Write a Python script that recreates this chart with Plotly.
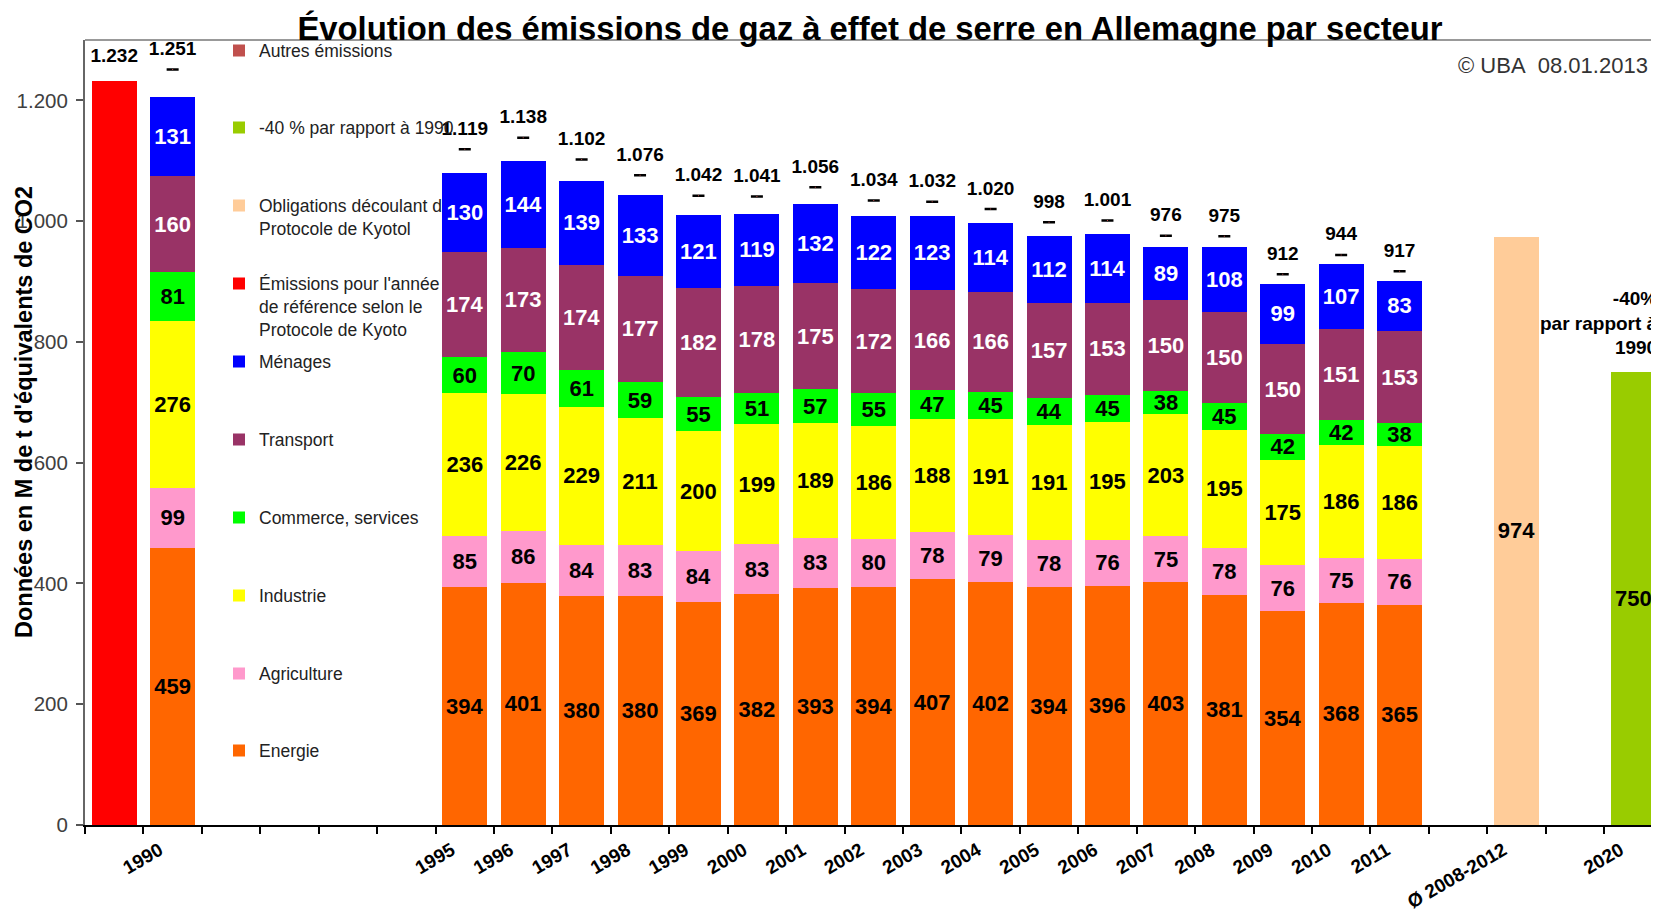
import plotly.graph_objects as go

# ---------------- data ----------------
tick_labels = ["", "1990", "", "", "", "",
               "1995", "1996", "1997", "1998", "1999", "2000", "2001", "2002", "2003",
               "2004", "2005", "2006", "2007", "2008", "2009", "2010", "2011",
               "", "Ø 2008-2012", "", "2020"]
sector_years = ["1990", "1995", "1996", "1997", "1998", "1999", "2000", "2001", "2002",
                "2003", "2004", "2005", "2006", "2007", "2008", "2009", "2010", "2011"]
energie = [459, 394, 401, 380, 380, 369, 382, 393, 394, 407, 402, 394, 396, 403, 381, 354, 368, 365]
agriculture = [99, 85, 86, 84, 83, 84, 83, 83, 80, 78, 79, 78, 76, 75, 78, 76, 75, 76]
industrie = [276, 236, 226, 229, 211, 200, 199, 189, 186, 188, 191, 191, 195, 203, 195, 175, 186, 186]
commerce = [81, 60, 70, 61, 59, 55, 51, 57, 55, 47, 45, 44, 45, 38, 45, 42, 42, 38]
transport = [160, 174, 173, 174, 177, 182, 178, 175, 172, 166, 166, 157, 153, 150, 150, 150, 151, 153]
menages = [131, 130, 144, 139, 133, 121, 119, 132, 122, 123, 114, 112, 114, 89, 108, 99, 107, 83]
totals = [1251, 1119, 1138, 1102, 1076, 1042, 1041, 1056, 1034, 1032, 1020, 998, 1001, 976, 975, 912, 944, 917]
ref_1990 = [1232]
kyoto_avg = [974]
target_2020 = [750]
y_ticks = [0, 200, 400, 600, 800, 1000, 1200]

# ---------------- positions from categories ----------------
sx = [tick_labels.index(y) for y in sector_years]
x_ref = [0]
x_kyoto = [tick_labels.index("Ø 2008-2012")]
x_2020 = [tick_labels.index("2020")]
boundaries = [i - 0.5 for i in range(len(tick_labels) + 1)]

FONT = "Liberation Sans, Arial, sans-serif"
fig = go.Figure()

sectors = [
    ("Energie", energie, "#FF6600", "black", "legend10"),
    ("Agriculture", agriculture, "#FF99CC", "black", "legend9"),
    ("Industrie", industrie, "#FFFF00", "black", "legend8"),
    ("Commerce, services", commerce, "#00FF00", "black", "legend7"),
    ("Transport", transport, "#993366", "white", "legend6"),
    ("Ménages", menages, "#0000FF", "white", "legend5"),
]
for name, vals, col, tcol, lg in sectors:
    fig.add_trace(go.Bar(
        x=sx, y=vals, name=name, legend=lg,
        marker=dict(color=col, line=dict(width=0)),
        text=vals, textposition="inside", insidetextanchor="middle",
        textangle=0, constraintext="none",
        textfont=dict(family=FONT, size=22, color=tcol, weight="bold"),
        hoverinfo="skip"))

fig.add_trace(go.Bar(
    x=x_ref, y=ref_1990, name="Émissions pour l'année<br>de référence selon le<br>Protocole de Kyoto",
    legend="legend4", marker=dict(color="#FF0000", line=dict(width=0)), hoverinfo="skip"))
fig.add_trace(go.Bar(
    x=x_kyoto, y=kyoto_avg, name="Obligations découlant d<br>Protocole de Kyotol",
    legend="legend3", marker=dict(color="#FFCC99", line=dict(width=0)),
    text=kyoto_avg, textposition="inside", insidetextanchor="middle", textangle=0,
    constraintext="none", textfont=dict(family=FONT, size=22, color="black", weight="bold"),
    hoverinfo="skip"))
fig.add_trace(go.Bar(
    x=x_2020, y=target_2020, name="-40 % par rapport à 1990",
    legend="legend2", marker=dict(color="#99CC00", line=dict(width=0)),
    text=target_2020, textposition="inside", insidetextanchor="middle", textangle=0,
    constraintext="none", textfont=dict(family=FONT, size=22, color="black", weight="bold"),
    hoverinfo="skip"))

# "Autres émissions": dash at the total (zero-length error bar caps)
fig.add_trace(go.Scatter(
    x=sx, y=totals, name="Autres émissions", legend="legend", mode="markers",
    marker=dict(symbol="square", size=1, color="#C0504D", line=dict(width=0)),
    error_y=dict(type="data", array=[0] * len(totals), color="black", thickness=2.5, width=6),
    hoverinfo="skip"))

# total labels
fig.add_trace(go.Scatter(
    x=x_ref + sx, y=ref_1990 + totals, mode="markers+text", showlegend=False,
    marker=dict(size=[22] + [14] * len(totals), color="rgba(0,0,0,0)",
                line=dict(width=0, color="rgba(0,0,0,0)")),
    texttemplate="%{y:,.0f}", textposition="top center",
    textfont=dict(family=FONT, size=19, color="black", weight="bold"),
    cliponaxis=False, hoverinfo="skip"))

# ---------------- layout ----------------
# the page places the figure 8 px from the top-left corner of the window,
# so reference pixel positions are converted with this offset
OFF = 8
W, H = 1659 - OFF, 912 - OFF
L, R, T, B = 85 - OFF, 0, 40 - OFF, 912 - 825
pw, ph = W - L - R, H - T - B


def py(p):  # reference pixel row -> paper y
    return (H - B - (p - OFF)) / ph


def pxx(p):  # reference pixel column -> paper x
    return (p - OFF - L) / pw


legend_first_line = [51, 128, 206, 284, 362, 440, 518, 596, 674, 751]
legend_names = ["legend"] + [f"legend{i}" for i in range(2, 11)]
legend_left_px = 219
for lname, p in zip(legend_names, legend_first_line):
    fig.update_layout({lname: dict(
        x=pxx(legend_left_px), xanchor="left",
        y=py(p - 18.5), yanchor="top", valign="top",
        bgcolor="rgba(0,0,0,0)", borderwidth=0,
        font=dict(family=FONT, size=17.5, color="#222222"),
        itemsizing="constant", itemclick=False, itemdoubleclick=False)})

fig.update_layout(
    width=W, height=H,
    margin=dict(l=L, r=R, t=T, b=B, pad=0),
    paper_bgcolor="white", plot_bgcolor="white",
    barmode="stack", bargap=0.23,
    separators=",.",
    showlegend=True,
    title=dict(text="<b>Évolution des émissions de gaz à effet de serre en Allemagne par secteur</b>",
               x=(870 - OFF) / W, xanchor="center", y=1 - (29 - OFF) / H, yanchor="middle",
               font=dict(family=FONT, size=32.8, color="black")),
    xaxis=dict(range=[-0.5, 26.44], tickmode="array",
               tickvals=list(range(len(tick_labels))), ticktext=tick_labels,
               tickangle=-30, ticks="", showgrid=False, zeroline=False,
               ticklabelshift=-13, ticklabelstandoff=5,
               showline=True, linecolor="black", linewidth=2,
               tickfont=dict(family=FONT, size=19, color="black", weight="bold"),
               minor=dict(tickmode="array", tickvals=boundaries, ticks="outside",
                          ticklen=7, tickwidth=1.5, tickcolor="black", showgrid=False),
               fixedrange=True),
    yaxis=dict(range=[0, 1300], tickmode="array", tickvals=y_ticks, tickformat=",d",
               ticks="outside", ticklen=7, tickwidth=1.5, tickcolor="#555555",
               ticklabelstandoff=4,
               showline=True, linecolor="#666666", linewidth=2,
               showgrid=False, zeroline=False,
               tickfont=dict(family=FONT, size=20.5, color="#404040"),
               fixedrange=True),
    shapes=[dict(type="line", xref="paper", yref="paper", x0=0, x1=1, y0=1, y1=1,
                 line=dict(color="#999999", width=2))],
    annotations=[
        dict(text="Données en M de t d'équivalents de CO2", xref="paper", yref="paper",
             x=pxx(24), y=py(412), xanchor="center", yanchor="middle",
             textangle=-90, showarrow=False,
             font=dict(family=FONT, size=23.5, color="black", weight="bold")),
        dict(text="© UBA\u00a0\u00a008.01.2013", xref="paper", yref="paper",
             x=pxx(1650), y=py(66), xanchor="right", yanchor="middle",
             showarrow=False, font=dict(family=FONT, size=22, color="#333333")),
        dict(text="<b>-40%</b><br><b>par rapport à</b><br><b>1990</b>",
             xref="paper", x=pxx(1660), yref="y", y=target_2020[0],
             xanchor="right", yanchor="bottom", yshift=12,
             showarrow=False, align="right",
             font=dict(family=FONT, size=19, color="black")),
    ],
)

fig.write_html("out.html")
